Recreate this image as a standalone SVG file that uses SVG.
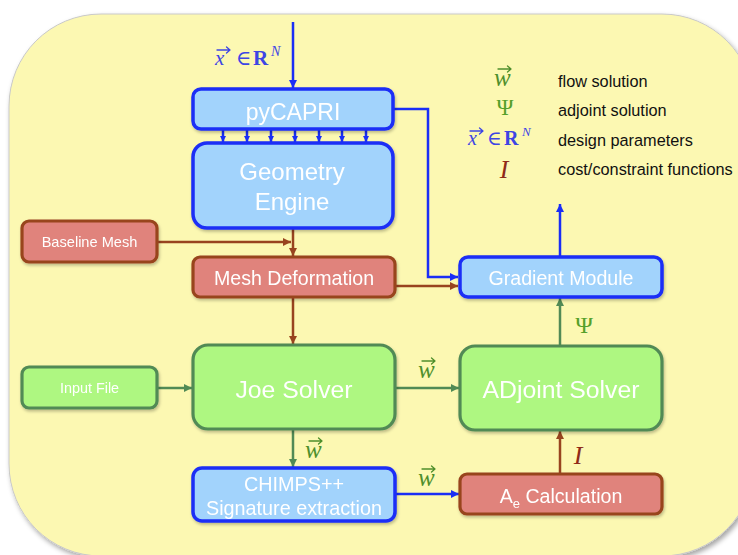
<svg xmlns="http://www.w3.org/2000/svg" width="738" height="555" viewBox="0 0 738 555">
  <style>
    .lbl { font-family: "Liberation Sans", Arial, sans-serif; fill: #ffffff; text-anchor: middle; }
    .leg { font-family: "Liberation Sans", Arial, sans-serif; fill: #111111; font-size: 16.3px; }
    .math { font-family: "Liberation Serif", "DejaVu Serif", serif; }
    .blueN { fill: #a2d3fc; stroke: #1a2ef6; stroke-width: 3.5; }
    .greenN { fill: #aef781; stroke: #518a55; stroke-width: 3.2; }
    .redN { fill: #e0837b; stroke: #98441f; stroke-width: 3.2; }
    .cb { fill: none; stroke: #1a2ef6; stroke-width: 2.5; }
    .cg { fill: none; stroke: #518a55; stroke-width: 2.5; }
    .cr { fill: none; stroke: #98441f; stroke-width: 2.5; }
    .wc { fill: #4f8f2c; }
    .xc { fill: #3e46e4; }
    .wv { stroke: #4f8f2c; }
    .xv { stroke: #3e46e4; }
  </style>
  <defs>
    <filter id="soft" x="-10%" y="-10%" width="130%" height="140%">
      <feDropShadow dx="1" dy="2" stdDeviation="1.5" flood-color="#000" flood-opacity="0.25"/>
    </filter>
    <filter id="panelShadow" x="-5%" y="-5%" width="115%" height="115%">
      <feDropShadow dx="2" dy="3" stdDeviation="2.5" flood-color="#000" flood-opacity="0.35"/>
    </filter>
    <!-- vector accent drawn over math symbols -->
    <path id="vecArrow" d="M0,0 H13 M9.5,-3 L13,0 L9.5,3" fill="none" stroke-width="1.3" stroke-linecap="round" stroke-linejoin="round"/>
    <marker id="ab" viewBox="0 0 10 10" refX="10" refY="5" markerWidth="9" markerHeight="8" markerUnits="userSpaceOnUse" orient="auto">
      <path d="M0,0 L10,5 L0,10 z" fill="#1a2ef6"/>
    </marker>
    <marker id="abs" viewBox="0 0 10 10" refX="10" refY="5" markerWidth="6" markerHeight="6" markerUnits="userSpaceOnUse" orient="auto">
      <path d="M0,0 L10,5 L0,10 z" fill="#1a2ef6"/>
    </marker>
    <marker id="ag" viewBox="0 0 10 10" refX="10" refY="5" markerWidth="9" markerHeight="8" markerUnits="userSpaceOnUse" orient="auto">
      <path d="M0,0 L10,5 L0,10 z" fill="#518a55"/>
    </marker>
    <marker id="ar" viewBox="0 0 10 10" refX="10" refY="5" markerWidth="9" markerHeight="8" markerUnits="userSpaceOnUse" orient="auto">
      <path d="M0,0 L10,5 L0,10 z" fill="#98441f"/>
    </marker>
  </defs>

  <!-- background panel -->
  <rect x="9" y="14" width="745" height="542" rx="92" ry="92" fill="#fcf8b2" stroke="#c9c9c9" stroke-width="1" filter="url(#panelShadow)"/>

  <!-- connectors -->
  <g id="connectors">
    <line class="cb" x1="293" y1="22" x2="293" y2="88" marker-end="url(#ab)"/>
    <g class="cb" stroke-width="2">
      <line x1="223" y1="130" x2="223" y2="142" marker-end="url(#abs)"/>
      <line x1="247" y1="130" x2="247" y2="142" marker-end="url(#abs)"/>
      <line x1="271" y1="130" x2="271" y2="142" marker-end="url(#abs)"/>
      <line x1="295" y1="130" x2="295" y2="142" marker-end="url(#abs)"/>
      <line x1="319" y1="130" x2="319" y2="142" marker-end="url(#abs)"/>
      <line x1="342" y1="130" x2="342" y2="142" marker-end="url(#abs)"/>
      <line x1="366" y1="130" x2="366" y2="142" marker-end="url(#abs)"/>
    </g>
    <polyline class="cb" points="393,109 428,109 428,277 458,277" marker-end="url(#ab)"/>
    <line class="cb" x1="560" y1="257" x2="560" y2="204" marker-end="url(#ab)"/>
    <line class="cr" x1="293" y1="228" x2="293" y2="256" marker-end="url(#ar)"/>
    <line class="cr" x1="157" y1="242" x2="291" y2="242" marker-end="url(#ar)"/>
    <line class="cr" x1="395" y1="286" x2="458" y2="286" marker-end="url(#ar)"/>
    <line class="cr" x1="293" y1="297" x2="293" y2="344" marker-end="url(#ar)"/>
    <line class="cg" x1="157" y1="388" x2="192" y2="388" marker-end="url(#ag)"/>
    <line class="cg" x1="395" y1="388" x2="459" y2="388" marker-end="url(#ag)"/>
    <line class="cg" x1="293" y1="429" x2="293" y2="467" marker-end="url(#ag)"/>
    <line class="cg" x1="560" y1="346" x2="560" y2="298" marker-end="url(#ag)"/>
    <line class="cb" x1="395" y1="494" x2="459" y2="494" marker-end="url(#ab)"/>
    <line class="cr" x1="560" y1="474" x2="560" y2="431" marker-end="url(#ar)"/>
  </g>

  <!-- connector labels -->
  <g id="edge-labels">
    <!-- x vector in R^N (input of pyCAPRI) -->
    <text class="math xc" font-size="21"><tspan x="215" y="65" font-style="italic">x</tspan><tspan x="236" y="65">∈</tspan><tspan x="253" y="65" font-weight="bold">R</tspan><tspan x="271" y="56" font-style="italic" font-size="14">N</tspan></text>
    <use href="#vecArrow" class="xv" x="217" y="50"/>
    <!-- flow solution labels -->
    <text class="math wc" x="418" y="378" font-size="25" font-style="italic">w</text>
    <use href="#vecArrow" class="wv" x="422" y="361"/>
    <text class="math wc" x="305" y="458" font-size="25" font-style="italic">w</text>
    <use href="#vecArrow" class="wv" x="309" y="441"/>
    <text class="math wc" x="418" y="486" font-size="25" font-style="italic">w</text>
    <use href="#vecArrow" class="wv" x="422" y="469"/>
    <text class="math" x="584" y="333" font-size="24" fill="#55a02a" text-anchor="middle">Ψ</text>
    <text class="math" x="578" y="464" font-size="26" font-style="italic" fill="#8f2a18" text-anchor="middle">I</text>
  </g>

  <!-- legend -->
  <g id="legend">
    <text class="math wc" x="494" y="86" font-size="25" font-style="italic">w</text>
    <use href="#vecArrow" class="wv" x="498" y="69"/>
    <text class="math" x="505" y="115" font-size="23" fill="#55a02a" text-anchor="middle">Ψ</text>
    <text class="math xc" font-size="20"><tspan x="468" y="145" font-style="italic">x</tspan><tspan x="487" y="145">∈</tspan><tspan x="504" y="145" font-weight="bold">R</tspan><tspan x="522" y="136" font-style="italic" font-size="13">N</tspan></text>
    <use href="#vecArrow" class="xv" x="470" y="131"/>
    <text class="math" x="504" y="178" font-size="26" font-style="italic" fill="#8f2a18" text-anchor="middle">I</text>
    <text class="leg" x="558" y="87">flow solution</text>
    <text class="leg" x="558" y="116">adjoint solution</text>
    <text class="leg" x="558" y="146">design parameters</text>
    <text class="leg" x="558" y="175">cost/constraint functions</text>
  </g>

  <!-- nodes -->
  <g id="pycapri" filter="url(#soft)">
    <rect class="blueN" x="193" y="89" width="200" height="40" rx="8"/>
    <text class="lbl" x="293" y="120" font-size="23">pyCAPRI</text>
  </g>
  <g id="geometry-engine" filter="url(#soft)">
    <rect class="blueN" x="193" y="143" width="200" height="85" rx="14"/>
    <text class="lbl" x="292" y="180" font-size="24">Geometry</text>
    <text class="lbl" x="292" y="210" font-size="24">Engine</text>
  </g>
  <g id="baseline-mesh" filter="url(#soft)">
    <rect class="redN" x="22" y="221" width="135" height="41" rx="7"/>
    <text class="lbl" x="89.5" y="247" font-size="14.6">Baseline Mesh</text>
  </g>
  <g id="mesh-deformation" filter="url(#soft)">
    <rect class="redN" x="193" y="257" width="202" height="40" rx="7"/>
    <text class="lbl" x="294" y="285" font-size="19.6">Mesh Deformation</text>
  </g>
  <g id="gradient-module" filter="url(#soft)">
    <rect class="blueN" x="460" y="257" width="202" height="40" rx="8"/>
    <text class="lbl" x="561" y="285" font-size="19.6">Gradient Module</text>
  </g>
  <g id="input-file" filter="url(#soft)">
    <rect class="greenN" x="22" y="367" width="135" height="41" rx="7"/>
    <text class="lbl" x="89.5" y="393" font-size="14.4">Input File</text>
  </g>
  <g id="joe-solver" filter="url(#soft)">
    <rect class="greenN" x="193" y="345" width="202" height="84" rx="15"/>
    <text class="lbl" x="294" y="398" font-size="24.8">Joe Solver</text>
  </g>
  <g id="adjoint-solver" filter="url(#soft)">
    <rect class="greenN" x="460" y="346" width="202" height="84" rx="15"/>
    <text class="lbl" x="561" y="398" font-size="24.8">ADjoint Solver</text>
  </g>
  <g id="chimps" filter="url(#soft)">
    <rect class="blueN" x="193" y="468" width="202" height="53" rx="9"/>
    <text class="lbl" x="294" y="491" font-size="19.8">CHIMPS++</text>
    <text class="lbl" x="294" y="515" font-size="19.8">Signature extraction</text>
  </g>
  <g id="ae-calculation" filter="url(#soft)">
    <rect class="redN" x="460" y="474" width="202" height="40" rx="7"/>
    <text class="lbl" x="561" y="503" font-size="19.6">A<tspan font-size="13" dy="5">e</tspan><tspan dy="-5"> Calculation</tspan></text>
  </g>
</svg>
